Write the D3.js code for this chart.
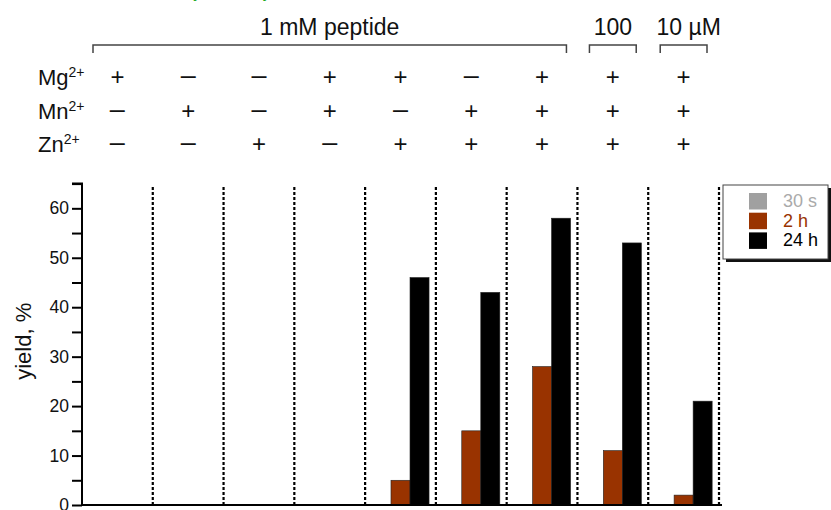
<!DOCTYPE html>
<html>
<head>
<meta charset="utf-8">
<script src="https://cdn.jsdelivr.net/npm/d3@7"></script>
<style>
body { margin: 0; background: #fff; }
text { font-family: Arial, "Liberation Sans", sans-serif; }
</style>
</head>
<body>
<svg id="chart" width="831" height="510"></svg>
<script>
// conditions per lane
var groups = ["1", "2", "3", "4", "5", "6", "7", "8", "9"];
var ions = ["Mg", "Mn", "Zn"];
var mg = ["+", "–", "–", "+", "+", "–", "+", "+", "+"];
var mn = ["–", "+", "–", "+", "–", "+", "+", "+", "+"];
var zn = ["–", "–", "+", "–", "+", "+", "+", "+", "+"];

// peptide concentration brackets
var bracketLabels = ["1 mM peptide", "100", "10 µM"];
var bracketStart = [0, 7, 8];
var bracketEnd = [6, 7, 8];

// yields, %
var series = ["30 s", "2 h", "24 h"];
var v30s = [0, 0, 0, 0, 0, 0, 0, 0, 0];
var v2h = [0, 0, 0, 0, 5, 15, 28, 11, 2];
var v24h = [0, 0, 0, 0, 46, 43, 58, 53, 21];
var yTicks = [0, 10, 20, 30, 40, 50, 60];

var colors = ["#a0a0a0", "#993300", "#000000"];
var textColors = ["#aaaaaa", "#993300", "#000000"];

var svg = d3.select("#chart");

var x = d3.scaleBand().domain(groups).range([82, 719]);
var xs = d3.scaleBand().domain(series).range([0, x.bandwidth()]).paddingOuter(0.36);
var y = d3.scaleLinear().domain([0, 65]).range([505, 183.6]);

// green title, mostly cut off
svg.append("text")
	.attr("x", 156)
	.attr("y", -2)
	.attr("font-size", 16)
	.attr("fill", "#22aa22")
	.text("Catalytic activity");

// brackets
bracketLabels.forEach(function (lab, i) {
	var inset = i == 0 ? 11 : 12;
	var x0 = x(groups[bracketStart[i]]) + inset;
	var x1 = x(groups[bracketEnd[i]]) + x.bandwidth() - inset;
	svg.append("path")
		.attr("d", "M" + x0 + ",53 L" + x0 + ",45 L" + x1 + ",45 L" + x1 + ",53")
		.attr("fill", "none")
		.attr("stroke", "#444")
		.attr("stroke-width", 1.5);
	svg.append("text")
		.attr("x", (x0 + x1) / 2 + (i == 2 ? 5 : 0))
		.attr("y", 35)
		.attr("text-anchor", "middle")
		.attr("font-size", 23)
		.attr("fill", "#111")
		.text(lab);
});

// ion table
var rows = [mg, mn, zn];
rows.forEach(function (row, r) {
	var base = 85 + r * 33.5;
	var lab = svg.append("text")
		.attr("x", 38)
		.attr("y", base)
		.attr("font-size", 22)
		.attr("fill", "#111");
	lab.append("tspan").text(ions[r]);
	lab.append("tspan").attr("font-size", 14).attr("dy", -8).text("2+");

	svg.selectAll(".sign" + r)
		.data(row)
		.enter().append("text")
		.attr("class", "sign" + r)
		.attr("x", function (d, i) { return x(groups[i]) + x.bandwidth() / 2; })
		.attr("y", function (d) { return d == "+" ? base : base - 1; })
		.attr("text-anchor", "middle")
		.attr("font-size", function (d) { return d == "+" ? 24 : 27; })
		.attr("fill", "#111")
		.text(function (d) { return d; });
});

// dotted separators
svg.selectAll(".sep")
	.data(groups)
	.enter().append("line")
	.attr("class", "sep")
	.attr("x1", function (d) { return x(d) + x.bandwidth(); })
	.attr("x2", function (d) { return x(d) + x.bandwidth(); })
	.attr("y1", 187)
	.attr("y2", 505)
	.attr("stroke", "#000")
	.attr("stroke-width", 2.2)
	.attr("stroke-dasharray", "3,2");

// bars
var vals = [v30s, v2h, v24h];
series.forEach(function (s, k) {
	svg.selectAll(".bar" + k)
		.data(vals[k])
		.enter().append("rect")
		.attr("class", "bar" + k)
		.attr("x", function (d, i) { return x(groups[i]) + xs(s); })
		.attr("y", function (d) { return y(d); })
		.attr("width", xs.bandwidth())
		.attr("height", function (d) { return y(0) - y(d); })
		.attr("fill", colors[k])
		.attr("stroke", function (d) { return d > 0 ? "#222" : "none"; })
		.attr("stroke-width", 0.6);
});

// y axis
var yAxis = d3.axisLeft(y)
	.tickValues(d3.range(0, 66, 5))
	.tickSize(10)
	.tickPadding(3)
	.tickFormat(function (d) { return yTicks.indexOf(d) >= 0 ? d : ""; });
var ya = svg.append("g")
	.attr("transform", "translate(82,0)")
	.call(yAxis);
ya.select(".domain").attr("stroke-width", 2).attr("d", "M-10," + y(65) + "H0V" + y(0));
ya.selectAll(".tick line").attr("stroke-width", 2);
ya.selectAll(".tick text").attr("font-size", 17.5).attr("fill", "#111")
	.style("font-family", "Arial, 'Liberation Sans', sans-serif");

// x baseline
svg.append("line")
	.attr("x1", 81).attr("x2", 722)
	.attr("y1", y(0)).attr("y2", y(0))
	.attr("stroke", "#000")
	.attr("stroke-width", 2);

svg.append("text")
	.attr("transform", "translate(31," + ((y(0) + y(65)) / 2 - 3) + ") rotate(-90)")
	.attr("text-anchor", "middle")
	.attr("font-size", 22)
	.attr("fill", "#111")
	.text("yield, %");

// legend
var lg = svg.append("g").attr("transform", "translate(723,185)");
lg.append("rect").attr("x", 3).attr("y", 3).attr("width", 105).attr("height", 74).attr("fill", "#111");
lg.append("rect").attr("x", 0).attr("y", 0).attr("width", 105).attr("height", 74)
	.attr("fill", "#fff").attr("stroke", "#444").attr("stroke-width", 1);
series.forEach(function (s, k) {
	lg.append("rect")
		.attr("x", 26).attr("y", 8 + k * 19.7)
		.attr("width", 18).attr("height", 16.5)
		.attr("fill", colors[k]);
	lg.append("text")
		.attr("x", 60).attr("y", 22 + k * 19.7)
		.attr("font-size", 18)
		.attr("fill", textColors[k])
		.text(s);
});
</script>
</body>
</html>
